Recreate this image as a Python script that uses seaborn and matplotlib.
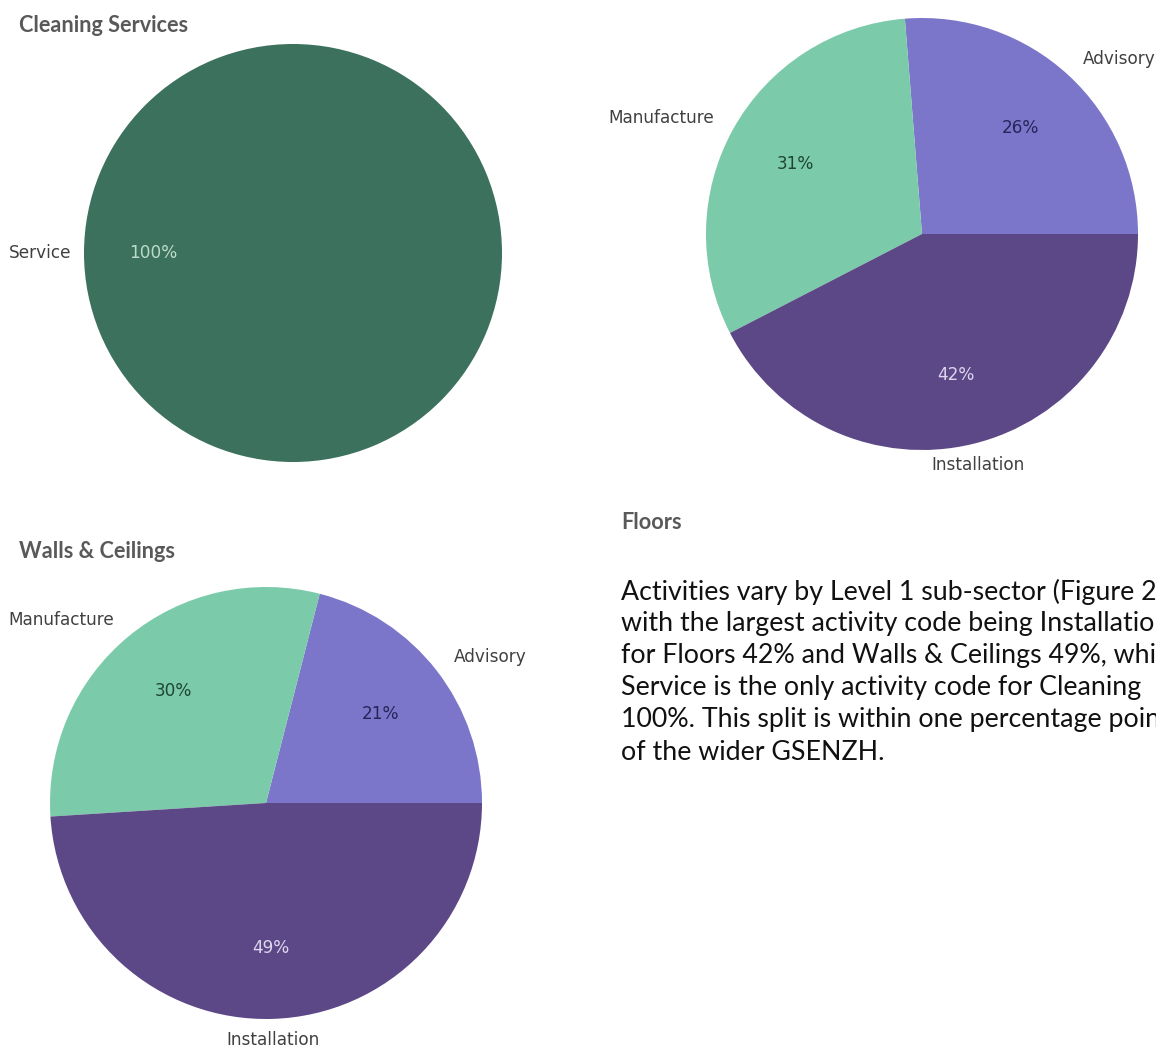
import matplotlib
matplotlib.use("Agg")
import matplotlib.pyplot as plt
import seaborn as sns

sns.set_theme(style="white")
plt.rcParams["font.family"] = ["DejaVu Sans"]

# Activity split per Level 1 sub-sector
cleaning_labels = ["Service"]
cleaning_values = [100]

floors_labels = ["Advisory", "Manufacture", "Installation"]
floors_values = [26, 31, 42]

walls_labels = ["Advisory", "Manufacture", "Installation"]
walls_values = [21, 30, 49]

activity_colors = {
    "Service": "#3c715d",
    "Advisory": "#7b76c9",
    "Manufacture": "#7bcbab",
    "Installation": "#5c4886",
}
pct_colors = {
    "Service": "#bcdccb",
    "Advisory": "#25255a",
    "Manufacture": "#1f4536",
    "Installation": "#ddd6f0",
}

paragraph = [
    "Activities vary by Level 1 sub-sector (Figure 2),",
    "with the largest activity code being Installation",
    "for Floors 42% and Walls & Ceilings 49%, while",
    "Service is the only activity code for Cleaning",
    "100%. This split is within one percentage point",
    "of the wider GSENZH.",
]

W, H = 1156, 1051
fig = plt.figure(figsize=(W / 100, H / 100), dpi=100)
fig.patch.set_facecolor("white")


def pie_axes(cx, cy, r):
    """Square axes in pixel units whose unit circle has radius r px."""
    return fig.add_axes([(cx - r) / W, (H - cy - r) / H, 2 * r / W, 2 * r / H])


def draw_pie(ax, labels, values, labeldistance=1.1):
    wedges, texts, autotexts = ax.pie(
        values,
        labels=labels,
        colors=[activity_colors[l] for l in labels],
        startangle=0,
        counterclock=True,
        labeldistance=labeldistance,
        pctdistance=0.67,
        autopct="%d%%",
        wedgeprops=dict(linewidth=0),
        textprops=dict(fontsize=12.2),
    )
    for t in texts:
        t.set_color("#404040")
        x, y = t.get_position()
        if abs(x) < 0.35:
            t.set_ha("center")
            t.set_va("center")
    for lab, t in zip(labels, autotexts):
        t.set_color(pct_colors[lab])
    ax.set_xlim(-1, 1)
    ax.set_ylim(-1, 1)
    ax.set_aspect("equal")
    ax.axis("off")
    return autotexts


ax1 = pie_axes(293, 253, 209)
draw_pie(ax1, cleaning_labels, cleaning_values, labeldistance=1.06)

ax2 = pie_axes(922, 234, 216)
draw_pie(ax2, floors_labels, floors_values)

ax3 = pie_axes(266, 803, 216)
draw_pie(ax3, walls_labels, walls_values)

title_kw = dict(fontsize=15.6, fontweight="bold", color="#595959",
                family=["Lato", "DejaVu Sans"], ha="left", va="center")
fig.text(19 / W, 1 - 25 / H, "Cleaning Services", **title_kw)
fig.text(621 / W, 1 - 522 / H, "Floors", **title_kw)
fig.text(19 / W, 1 - 551 / H, "Walls & Ceilings", **title_kw)

for i, line in enumerate(paragraph):
    fig.text(621 / W, 1 - (592 + 32 * i) / H, line, fontsize=19.3,
             color="#111111", family=["Lato", "DejaVu Sans"],
             ha="left", va="center")

fig.savefig("out.png", dpi=100, facecolor="white")
